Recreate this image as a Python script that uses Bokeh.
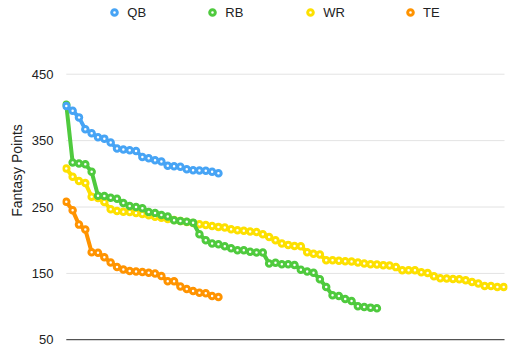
from bokeh.plotting import figure
from bokeh.models import Range1d, FixedTicker, Legend, LegendItem, ColumnDataSource
from bokeh.embed import file_html
from bokeh.resources import INLINE

# ---- data ----
series_names = ["QB", "RB", "WR", "TE"]
qb = [402, 395, 385, 367, 361, 355, 353, 347, 338, 336.5, 335.5, 334.5, 325.5,
      323.5, 320.5, 318.5, 312, 311.5, 310.5, 307, 305.5, 305, 304.5, 303, 301]
rb = [404, 317, 315.5, 314.5, 303, 267, 266.5, 264, 262.5, 256, 251.7, 250.2,
      248.2, 242.6, 241, 238, 235.6, 230, 229, 228, 226.5, 209, 200, 195, 194,
      191, 188, 185, 185, 182.5, 181.5, 181.5, 164.8, 166, 164, 163.9, 162.8,
      155.5, 153, 151, 141.3, 129.7, 117, 116, 111.5, 108.6, 100.6, 99.5, 98.5, 97.6]
wr = [308, 295.5, 289.3, 286, 265.5, 263.5, 257.5, 246.7, 244.1, 243,
      242.5, 241, 239.5, 237.5, 235.5, 234, 232, 230.5, 229, 227.5,
      226, 224, 223, 221.6, 220.1, 219.1, 216.6, 215.1, 214.1, 213,
      212.5, 209, 205, 200, 195, 193, 191.4, 191, 182, 179.8,
      178.5, 170, 170, 169, 168.5, 167.8, 166.3, 164.8, 164, 163.5,
      162.5, 162, 159.5, 154.8, 154.8, 154.8, 151.8, 150.8, 145.8, 142.8,
      142.2, 141.7, 141.3, 139.8, 137.2, 134.7, 131.2, 131.2, 129.7, 129.7]
te = [258, 245, 223.5, 216, 182, 181.3, 174.3, 166.3, 159.8, 156, 153.8, 152.8,
      152, 151, 149.8, 146, 138.3, 138.3, 130.2, 126.5, 123.7, 121, 120, 116, 114.6]
y_ticks = [50, 150, 250, 350, 450]
colors = {"QB": "#47a4f5", "RB": "#4fca3e", "WR": "#fde000", "TE": "#ff9300"}
values = {"QB": qb, "RB": rb, "WR": wr, "TE": te}

FONT = "Liberation Sans"
n_max = max(len(v) for v in values.values())

p = figure(frame_width=445, frame_height=340,
           min_border_left=62, min_border_right=8,
           min_border_top=0, min_border_bottom=10,
           x_range=Range1d(-0.6, n_max - 1 + 0.6),
           y_range=Range1d(49, 561),
           output_backend="svg", toolbar_location=None)
p.outline_line_color = None
p.xgrid.visible = False
p.ygrid.visible = False
p.xaxis.visible = False

# gridlines and baseline
grid_end = n_max - 1 + 0.13
p.segment(x0=[0] * (len(y_ticks) - 1), x1=[grid_end] * (len(y_ticks) - 1),
          y0=y_ticks[1:], y1=y_ticks[1:], line_color="#e3e3e3", line_width=1)
p.segment(x0=[0], x1=[grid_end], y0=[y_ticks[0]], y1=[y_ticks[0]],
          line_color="#000000", line_width=1)

ax = p.yaxis[0]
ax.ticker = FixedTicker(ticks=y_ticks)
ax.bounds = (y_ticks[0], y_ticks[-1])
ax.axis_line_color = None
ax.major_tick_line_color = None
ax.minor_tick_line_color = None
ax.major_tick_out = 0
ax.major_tick_in = 0
ax.major_label_standoff = 9
ax.major_label_text_font = FONT
ax.major_label_text_font_size = "13px"
ax.major_label_text_color = "#222222"
ax.axis_label = "Fantasy Points"
ax.axis_label_text_font = FONT
ax.axis_label_text_font_size = "14px"
ax.axis_label_text_font_style = "normal"
ax.axis_label_text_color = "#222222"
ax.axis_label_standoff = 4

scatter_r = {}
for name in ["TE", "WR", "RB", "QB"]:
    ys = values[name]
    src = ColumnDataSource(dict(x=list(range(len(ys))), y=ys))
    p.line("x", "y", source=src, line_color=colors[name], line_width=4,
           line_join="round")
    scatter_r[name] = p.scatter("x", "y", source=src, size=5.5, marker="circle",
                                fill_color="white", line_color=colors[name],
                                line_width=3)

legend = Legend(items=[LegendItem(label=n, renderers=[scatter_r[n]]) for n in series_names],
                orientation="horizontal", location=(45.3, 320.5),
                glyph_width=14, glyph_height=14, label_height=13,
                label_standoff=6, spacing=58, padding=0, margin=0,
                border_line_color=None, background_fill_alpha=0,
                label_text_font=FONT, label_text_font_size="13px",
                label_text_color="#222222")
p.add_layout(legend, "center")

open("out.html", "w").write(file_html(p, INLINE))
